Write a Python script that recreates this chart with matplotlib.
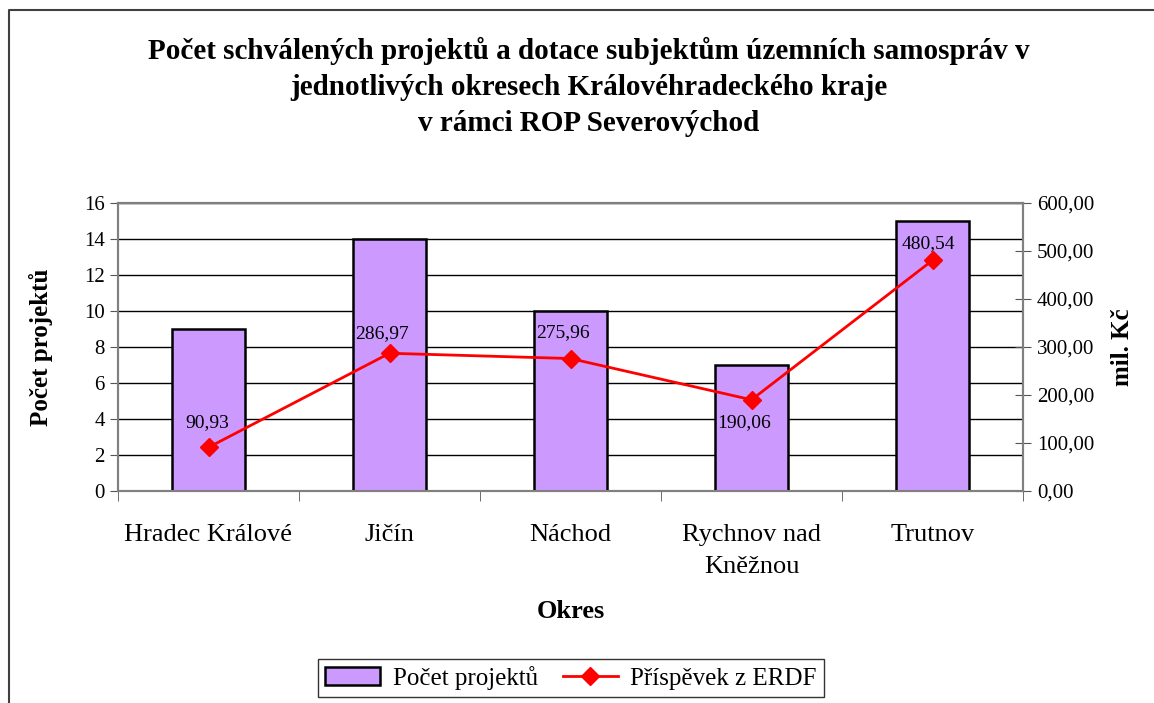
import matplotlib.pyplot as plt
from matplotlib.lines import Line2D
from matplotlib.ticker import FixedLocator, FuncFormatter

plt.rcParams['font.family'] = ['Liberation Serif', 'DejaVu Serif']

okresy = ['Hradec Králové', 'Jičín', 'Náchod', 'Rychnov nad\nKněžnou', 'Trutnov']
pocet_projektu = [9, 14, 10, 7, 15]
prispevek_erdf = [90.93, 286.97, 275.96, 190.06, 480.54]

# data label offsets in pixels (dx, dy), as placed in the source chart
label_offsets = [(-1, 25), (-8, 20), (-8, 26), (-7, -23), (-4, 17)]

W, H = 1154, 703
fig = plt.figure(figsize=(W / 100, H / 100), dpi=100)

# outer chart frame (cut at right/bottom edge like the source)
fig.add_artist(Line2D([9 / W, 9 / W, 1.0], [0.0, 1 - 10 / H, 1 - 10 / H],
                      transform=fig.transFigure, color='#404040', lw=1.5))

left, right, top, bottom = 118, 1023, 203, 491
ax = fig.add_axes([left / W, 1 - bottom / H, (right - left) / W, (bottom - top) / H])

x = list(range(len(okresy)))
ax.bar(x, pocet_projektu, width=0.4, color='#CC99FF', edgecolor='black', lw=1.8,
       label='Počet projektů', zorder=3)
ax.set_xlim(-0.5, len(okresy) - 0.5)
ax.set_ylim(0, 16)
ax.set_yticks(range(0, 17, 2))
ax.grid(axis='y', color='black', lw=1, zorder=0)
ax.tick_params(axis='y', direction='out', length=6, labelsize=15, color='#555555')
ax.set_xticks(x)
ax.set_xticklabels(okresy, fontsize=19, linespacing=1.55)
ax.tick_params(axis='x', length=0, pad=24)
ax.xaxis.set_minor_locator(FixedLocator([i - 0.5 for i in range(len(okresy) + 1)]))
ax.tick_params(axis='x', which='minor', direction='out', length=7, color='#555555')
for s in ax.spines.values():
    s.set_color('#808080')
    s.set_linewidth(1.5)
ax.set_ylabel('Počet projektů', fontsize=18, fontweight='bold', labelpad=22)
ax.set_xlabel('Okres', fontsize=19, fontweight='bold', labelpad=16)

ax2 = ax.twinx()
ax2.plot(x, prispevek_erdf, color='red', lw=2, marker='D', markersize=9,
         label='Příspěvek z ERDF', zorder=4)
ax2.set_ylim(0, 600)
ax2.set_yticks(range(0, 601, 100))
ax2.yaxis.set_major_formatter(FuncFormatter(lambda v, p: f'{v:.2f}'.replace('.', ',')))
ax2.tick_params(axis='y', direction='inout', length=12, labelsize=15, color='#555555', pad=4)
for s in ax2.spines.values():
    s.set_color('#808080')
    s.set_linewidth(1.5)
ax2.set_ylabel('mil. Kč', fontsize=18, fontweight='bold', labelpad=12)

for xi, v, off in zip(x, prispevek_erdf, label_offsets):
    ax2.annotate(f'{v:.2f}'.replace('.', ','), (xi, v), xytext=off,
                 textcoords='offset pixels', ha='center', va='center', fontsize=14)

fig.text(0.51, 1 - 87 / H,
         'Počet schválených projektů a dotace subjektům územních samospráv v\n'
         'jednotlivých okresech Královéhradeckého kraje\nv rámci ROP Severovýchod',
         ha='center', va='center', fontsize=21, fontweight='bold', linespacing=1.42)

h1, l1 = ax.get_legend_handles_labels()
h2, l2 = ax2.get_legend_handles_labels()
leg = fig.legend(h1 + h2, l1 + l2, loc='center', bbox_to_anchor=(571 / W, 1 - 678 / H),
                 ncol=2, fontsize=18, frameon=True, fancybox=False, edgecolor='black',
                 handlelength=2.2, columnspacing=1.0, borderpad=0.3, handletextpad=0.5)
leg.get_frame().set_linewidth(1)

plt.savefig('out.png', dpi=100)
